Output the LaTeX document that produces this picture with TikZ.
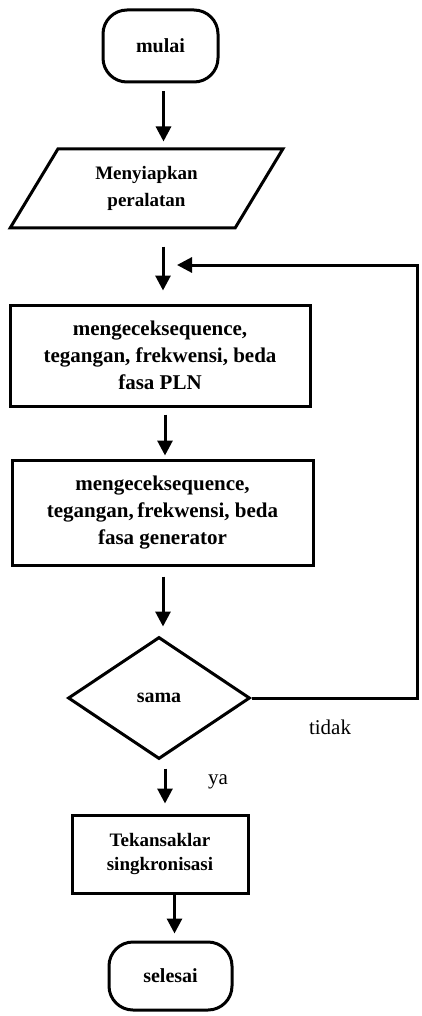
\documentclass[tikz,border=0pt]{standalone}
\usepackage{fontspec}
\setmainfont{Liberation Serif}
\usetikzlibrary{shapes.geometric,arrows.meta,positioning}

\tikzset{
  flow/.style={line width=3pt,-{Triangle[width=15pt,length=15pt]}},
  termbox/.style={draw,line width=3pt,rounded corners=24pt,align=center,
    font=\fontsize{20}{27}\selectfont\bfseries},
  iobox/.style={draw,trapezium,trapezium left angle=60,trapezium right angle=120,
    trapezium stretches=true,line width=3pt,align=center,
    font=\fontsize{19}{27}\selectfont\bfseries},
  procbox/.style={draw,line width=3pt,align=center,
    font=\fontsize{21}{27}\selectfont\bfseries},
  decbox/.style={draw,diamond,aspect=1.5,line width=3pt,inner sep=0pt,
    font=\fontsize{20}{27}\selectfont\bfseries},
  answer/.style={font=\fontsize{21}{25}\selectfont}
}

\begin{document}
\begin{tikzpicture}[x=1pt,y=-1pt]
    \useasboundingbox (0,0) rectangle (421,1016);

    % Flowchart steps
    \node[termbox,minimum width=115pt,minimum height=72pt] (mulai) at (160.5,46) {mulai};
    \node[iobox,minimum width=273pt,minimum height=79pt] (siap) at (146.5,188.5) {Menyiapkan\\peralatan};
    \node[procbox,minimum width=300pt,minimum height=101pt] (plnchk) at (160,355.5)
        {mengeceksequence,\\tegangan, frekwensi, beda\\fasa PLN};
    \node[procbox,minimum width=301pt,minimum height=105pt] (genchk) at (162.5,512.5)
        {mengeceksequence,\\tegangan,\,frekwensi, beda\\fasa generator};
    \node[decbox,minimum width=182pt,minimum height=122pt] (sama) at (159,698) {sama};
    \node[procbox,minimum width=176pt,minimum height=78pt,
          font=\fontsize{19}{24}\selectfont\bfseries] (tekan) at (160,854)
        {Tekansaklar\\singkronisasi};
    \node[termbox,minimum width=123pt,minimum height=68pt] (selesai) at (170.5,976) {selesai};

    % Answers of the decision
    \node[answer] (tidak) at (330,727) {tidak};
    \node[answer] (ya) at (218,782) {ya};

    % Main flow
    \draw[flow,shorten <=8pt,shorten >=6pt] ([xshift=3pt]mulai.south) -- ([xshift=3pt]mulai.south |- siap.north);
    \draw[flow,shorten <=17pt,shorten >=13pt] ([xshift=3pt]plnchk.north |- siap.south) -- ([xshift=3pt]plnchk.north);
    \draw[flow,shorten <=7pt,shorten >=3pt] ([xshift=5pt]plnchk.south) -- ([xshift=5pt]plnchk.south |- genchk.north);
    \draw[flow,shorten <=10pt,shorten >=9pt] ([xshift=4pt]sama.north |- genchk.south) -- ([xshift=4pt]sama.north);
    \draw[flow,shorten <=8pt,shorten >=10pt] ([xshift=6pt]sama.south) -- ([xshift=6pt]sama.south |- tekan.north);
    \draw[flow,shorten >=7pt] ([xshift=4pt]selesai.north |- tekan.south) -- ([xshift=4pt]selesai.north);

    % Loop back when not equal
    \coordinate (loopR) at (417,265);
    \coordinate (loopIn) at (177,265);
    \draw[flow] (sama.east) -| (loopR) -- (loopIn);
\end{tikzpicture}
\end{document}
